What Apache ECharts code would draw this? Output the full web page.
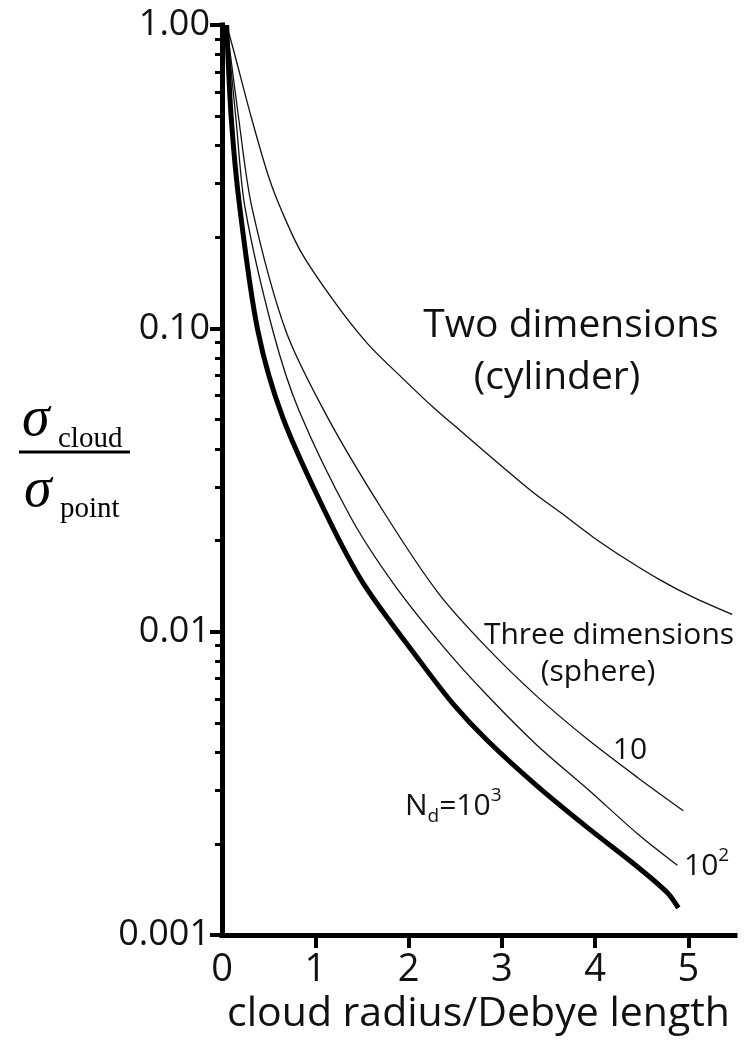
<!DOCTYPE html>
<html><head><meta charset="utf-8">
<script src="https://cdn.jsdelivr.net/npm/echarts@6/dist/echarts.min.js"></script>
<style>html,body{margin:0;padding:0;background:#fff}#c{width:750px;height:1040px}</style>
</head><body><div id="c"></div>
<script>
// ---- data ----
// Two dimensions (cylinder)
const radius2D = [0.05, 0.13, 0.31, 0.50, 0.65, 0.85, 1.20, 1.56, 1.92, 2.27, 2.45, 3.31, 3.63, 3.98, 4.35, 4.70, 5.05, 5.47];
const sigma2D  = [1.0, 0.813, 0.501, 0.316, 0.240, 0.178, 0.123, 0.0891, 0.0692, 0.0547, 0.049, 0.0292, 0.0247, 0.0205, 0.0172, 0.0148, 0.0130, 0.0114];
// Three dimensions (sphere), N_d = 10
const radiusN10 = [0.05, 0.18, 0.32, 0.685, 1.135, 1.724, 2.313, 2.848, 3.383, 3.919, 4.454, 4.946];
const sigmaN10  = [1.0, 0.489, 0.251, 0.098, 0.0507, 0.0251, 0.01349, 0.00881, 0.0061, 0.00442, 0.00331, 0.00257];
// N_d = 10^2
const radiusN100 = [0.05, 0.15, 0.246, 0.546, 0.824, 1.381, 1.842, 2.377, 2.848, 3.383, 3.919, 4.454, 4.882];
const sigmaN100  = [1.0, 0.489, 0.251, 0.098, 0.0537, 0.0238, 0.01436, 0.0089, 0.00615, 0.00421, 0.00303, 0.00216, 0.0017];
// N_d = 10^3 (thick)
const radiusN1000 = [0.05, 0.10, 0.19, 0.385, 0.653, 1.135, 1.52, 2.13, 2.484, 2.848, 3.383, 3.919, 4.454, 4.775, 4.893];
const sigmaN1000  = [1.0, 0.489, 0.251, 0.098, 0.0507, 0.0238, 0.01436, 0.00794, 0.00575, 0.00437, 0.00309, 0.00226, 0.00168, 0.00138, 0.00123];

// ---- axes / ticks ----
const yTickLabels = ['0.001', '0.01', '0.10', '1.00'];
const yMinorTicks = [0.002,0.003,0.004,0.005,0.006,0.007,0.008,0.009,
                     0.02,0.03,0.04,0.05,0.06,0.07,0.08,0.09,
                     0.2,0.3,0.4,0.5,0.6,0.7,0.8,0.9];
const xLabelValues = [0, 1, 2, 3, 4, 5];
const xTickValues  = [1, 2, 3, 4, 5];

const pairs = (xs, ys) => xs.map((x, i) => [x, ys[i]]);
const FONT = 'Open Sans';
const INK = '#111';

const chart = echarts.init(document.getElementById('c'), null, {renderer: 'canvas'});
const lineBase = {type: 'line', showSymbol: false, smooth: 0.3, clip: false, animation: false, z: 3};

chart.setOption({
  animation: false,
  backgroundColor: '#fff',
  grid: {left: 222, right: 15, top: 25, bottom: 100, containLabel: false},
  xAxis: {
    type: 'value', min: 0, max: 5.5, interval: 1,
    axisLine: {onZero: false, lineStyle: {color: '#000', width: 5, cap: 'square'}},
    axisTick: {show: true, customValues: xTickValues, length: 13, lineStyle: {color: '#000', width: 4}},
    axisLabel: {customValues: xLabelValues, fontSize: 38, fontFamily: FONT, color: INK, margin: 16},
    splitLine: {show: false},
    name: 'cloud radius/Debye length', nameLocation: 'middle', nameGap: 52,
    nameTextStyle: {fontSize: 41, fontFamily: FONT, color: INK}
  },
  yAxis: [{
    type: 'log', logBase: 10, min: 0.001, max: 1,
    axisLine: {show: true, onZero: false, lineStyle: {color: '#000', width: 5, cap: 'square'}},
    axisTick: {show: true, length: 12, lineStyle: {color: '#000', width: 4}},
    axisLabel: {formatter: v => yTickLabels[Math.round(Math.log10(v)) + 3], fontSize: 36, fontFamily: FONT, color: INK, margin: 12},
    splitLine: {show: false}
  }, {
    type: 'value', min: -3, max: 0, position: 'left', offset: 0,
    axisLine: {show: false},
    axisTick: {show: true, length: 7, customValues: yMinorTicks.map(v => Math.log10(v)), lineStyle: {color: '#000', width: 3}},
    axisLabel: {show: false},
    splitLine: {show: false}
  }],
  series: [
    Object.assign({}, lineBase, {name: 'Two dimensions', data: pairs(radius2D, sigma2D), lineStyle: {color: INK, width: 1.3}}),
    Object.assign({}, lineBase, {name: 'N_d=10', data: pairs(radiusN10, sigmaN10), lineStyle: {color: INK, width: 1.3}}),
    Object.assign({}, lineBase, {name: 'N_d=10^2', data: pairs(radiusN100, sigmaN100), lineStyle: {color: INK, width: 1.3}}),
    Object.assign({}, lineBase, {name: 'N_d=10^3', data: pairs(radiusN1000, sigmaN1000), lineStyle: {color: '#000', width: 5}})
  ],
  graphic: [
    {type: 'text', x: 571, y: 326, style: {text: 'Two dimensions', font: '39px "Open Sans"', fill: INK, align: 'center', verticalAlign: 'middle'}},
    {type: 'text', x: 557, y: 378, style: {text: '(cylinder)', font: '39px "Open Sans"', fill: INK, align: 'center', verticalAlign: 'middle'}},
    {type: 'text', x: 609, y: 635, style: {text: 'Three dimensions', font: '30px "Open Sans"', fill: INK, align: 'center', verticalAlign: 'middle'}},
    {type: 'text', x: 598, y: 672, style: {text: '(sphere)', font: '30px "Open Sans"', fill: INK, align: 'center', verticalAlign: 'middle'}},
    {type: 'text', x: 630, y: 750, style: {text: '10', font: '30px "Open Sans"', fill: INK, align: 'center', verticalAlign: 'middle'}},
    {type: 'text', x: 405, y: 806, style: {
      text: '{a|N}{sub|d}{a|=10}{sup|3}', align: 'left', verticalAlign: 'middle', fill: INK,
      rich: {
        a: {fontSize: 30, fontFamily: FONT, lineHeight: 40, fill: INK, color: INK},
        sub: {fontSize: 19, fontFamily: FONT, lineHeight: 19, verticalAlign: 'bottom', fill: INK, color: INK},
        sup: {fontSize: 19, fontFamily: FONT, lineHeight: 19, verticalAlign: 'top', fill: INK, color: INK}
      }}},
    {type: 'text', x: 684, y: 866, style: {
      text: '{a|10}{sup|2}', align: 'left', verticalAlign: 'middle', fill: INK,
      rich: {
        a: {fontSize: 30, fontFamily: FONT, lineHeight: 40, fill: INK, color: INK},
        sup: {fontSize: 19, fontFamily: FONT, lineHeight: 19, verticalAlign: 'top', fill: INK, color: INK}
      }}},
    // y-axis title: sigma_cloud / sigma_point
    {type: 'text', x: 22, y: 420, style: {text: 'σ', font: 'italic 56px "Liberation Serif"', fill: '#000', align: 'left', verticalAlign: 'middle'}},
    {type: 'text', x: 58, y: 439, style: {text: 'cloud', font: '29px "Liberation Serif"', fill: '#000', align: 'left', verticalAlign: 'middle'}},
    {type: 'line', shape: {x1: 19, y1: 452, x2: 130, y2: 452}, style: {stroke: '#000', lineWidth: 3}},
    {type: 'text', x: 24, y: 491, style: {text: 'σ', font: 'italic 56px "Liberation Serif"', fill: '#000', align: 'left', verticalAlign: 'middle'}},
    {type: 'text', x: 60, y: 509, style: {text: 'point', font: '29px "Liberation Serif"', fill: '#000', align: 'left', verticalAlign: 'middle'}}
  ]
});
</script>
</body></html>
